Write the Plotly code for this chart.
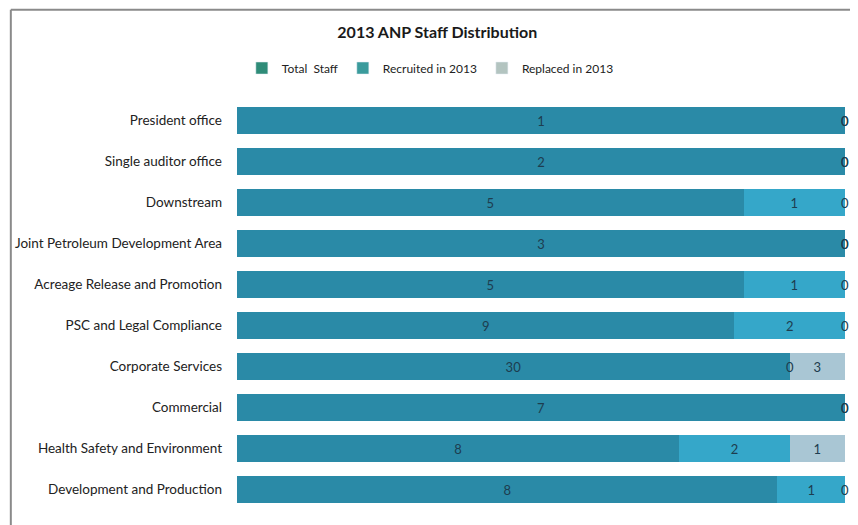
import numpy as np
import plotly.graph_objects as go

categories = [
    "President office",
    "Single auditor office",
    "Downstream",
    "Joint Petroleum Development Area",
    "Acreage Release and Promotion",
    "PSC and Legal Compliance",
    "Corporate Services",
    "Commercial",
    "Health Safety and Environment",
    "Development and Production",
]
total_staff = [1, 2, 5, 3, 5, 9, 30, 7, 8, 8]
recruited_2013 = [0, 0, 1, 0, 1, 2, 0, 0, 2, 1]
replaced_2013 = [0, 0, 0, 0, 0, 0, 3, 0, 1, 0]

series_names = ["Total  Staff", "Recruited in 2013", "Replaced in 2013"]
series_values = [total_staff, recruited_2013, replaced_2013]
bar_colors = ["#2a8aa7", "#35a7c9", "#a9c6d4"]
legend_colors = ["#2f8c78", "#3a9b9c", "#b3c4c0"]

font_family = "Lato, 'Open Sans', sans-serif"

fig = go.Figure()
vals = np.array(series_values, dtype=float)
sums = vals.sum(axis=0)
pct = vals / sums * 100
cum = np.minimum(np.round(np.cumsum(pct, axis=0), 6), 100.0)

for name, v, c in zip(series_names, series_values, bar_colors):
    fig.add_trace(go.Bar(
        y=categories, x=v, name=name, orientation="h",
        marker=dict(color=c, line=dict(width=0)),
        text=[str(t) if t != 0 else "" for t in v],
        textposition="inside", insidetextanchor="middle",
        textfont=dict(color="#1d3d4f", size=13, family=font_family),
        showlegend=False, hoverinfo="x+y+name",
    ))

# legend-only entries
for name, c in zip(series_names, legend_colors):
    fig.add_trace(go.Bar(y=[None], x=[None], name=name, marker_color=c,
                         orientation="h", showlegend=True))

# labels for zero-valued segments
for si, v in enumerate(series_values):
    for ci, t in enumerate(v):
        if t == 0:
            fig.add_annotation(x=float(cum[si][ci]), y=categories[ci], text="0",
                               showarrow=False, xanchor="center",
                               font=dict(color="#1d3d4f", size=13, family=font_family))

fig.update_layout(
    barmode="stack", barnorm="percent", bargap=0.36,
    width=850, height=517,
    margin=dict(l=229, r=13, t=92, b=15, autoexpand=False),
    paper_bgcolor="white", plot_bgcolor="white",
    title=dict(text="<b>2013 ANP Staff Distribution</b>", x=0.505, xanchor="center",
               y=0.952, yanchor="middle",
               font=dict(size=16, color="#1a1a1a", family=font_family)),
    legend=dict(orientation="h", x=0.318, xanchor="center", y=1.078, yanchor="middle",
                font=dict(size=12, color="#222", family=font_family),
                itemwidth=30, traceorder="normal"),
    font=dict(family=font_family),
    showlegend=True,
)
fig.update_xaxes(range=[0, 100], visible=False, fixedrange=True)
fig.update_yaxes(autorange="reversed", showgrid=False, zeroline=False,
                 showline=False, ticks="", ticklabelstandoff=14, automargin=False,
                 tickfont=dict(size=13.5, color="#222", family=font_family))

# chart border (top and left)
fig.add_shape(type="line", xref="paper", yref="paper",
              x0=-0.372, x1=1.03, y0=1.22, y1=1.22,
              line=dict(color="#8a8a8a", width=2))
fig.add_shape(type="line", xref="paper", yref="paper",
              x0=-0.372, x1=-0.372, y0=1.22, y1=-0.05,
              line=dict(color="#8a8a8a", width=2))

fig.write_html("out.html")
